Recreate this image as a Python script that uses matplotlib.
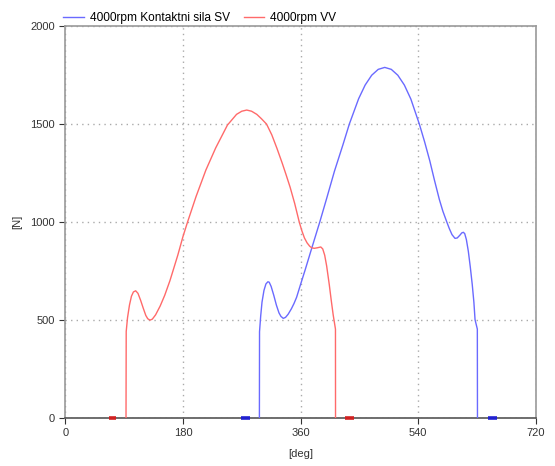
import matplotlib
matplotlib.use("Agg")
import matplotlib.pyplot as plt

plt.rcParams["font.family"] = ["Liberation Sans", "DejaVu Sans"]

# VV contact force (red)
vv_deg = [92.7, 93, 95, 98, 101, 104, 107.5, 111, 115, 119, 123, 126, 129.4, 133, 138,
          145, 152, 160, 165, 172, 180, 187, 200, 215, 230, 248, 262, 270, 277.6, 285,
          293, 300, 308, 316, 324, 332, 338, 344, 351, 358, 362, 366, 370, 374, 377,
          381, 386, 391, 394, 397, 400, 404, 407, 410, 413.5, 413.6]
vv_force = [0, 440, 510, 575, 620, 642, 648, 635, 600, 560, 522, 505, 498, 503, 525,
            570, 625, 700, 754, 830, 926, 1000, 1130, 1265, 1378, 1495, 1550, 1566, 1572, 1566,
            1550, 1528, 1500, 1445, 1375, 1300, 1240, 1178, 1095, 1000, 955, 918, 893, 876, 868,
            865, 868, 872, 862, 830, 775, 680, 600, 525, 452, 0]

# SV contact force (blue)
sv_deg = [297, 297.2, 299, 301, 304, 307, 310, 312, 315, 319, 323, 327, 330, 333.6, 337,
          341, 346, 350, 354, 360, 367, 377, 389.5, 400, 412, 425, 434.7, 449, 459, 469,
          479, 489, 499, 509, 519, 529, 542, 550, 558, 565, 572.6, 578, 584, 588, 592,
          596.6, 600, 604, 607, 609.4, 611.5, 614, 617, 620, 623, 625.5, 627.3, 630.8, 631]
sv_force = [0, 439, 520, 590, 650, 683, 694, 692, 670, 625, 575, 535, 517, 507, 512,
            528, 556, 583, 615, 680, 754, 864, 1000, 1120, 1260, 1395, 1500, 1630, 1700, 1750,
            1780, 1790, 1780, 1750, 1700, 1628, 1500, 1410, 1312, 1215, 1115, 1055, 1000, 965, 935,
            916, 918, 932, 944, 947, 940, 910, 850, 770, 680, 590, 500, 452, 0]

# short dark marks on the zero line
vv_marks = [(67, 78), (428, 442)]
sv_marks = [(269, 283), (647, 661)]

xticks = [0, 180, 360, 540, 720]
yticks = [0, 500, 1000, 1500, 2000]

fig = plt.figure(figsize=(5.55, 4.66), dpi=100)
ax = fig.add_axes([0.118, 0.104, 0.847, 0.8395])

ax.plot(sv_deg, sv_force, color="#6a6aff", lw=1, label="4000rpm Kontaktni sila SV", zorder=3)
ax.plot(vv_deg, vv_force, color="#ff6a6a", lw=1, label="4000rpm VV", zorder=3)

for a, b in vv_marks:
    ax.plot([a, b], [0, 0], color="#d02020", lw=2.6, solid_capstyle="butt", zorder=5, clip_on=False)
for a, b in sv_marks:
    ax.plot([a, b], [0, 0], color="#2020d0", lw=2.6, solid_capstyle="butt", zorder=5, clip_on=False)

ax.set_xlim(0, 720)
ax.set_ylim(0, 2000)
ax.set_xticks(xticks)
ax.set_yticks(yticks)
ax.tick_params(labelsize=8, colors="#333333", length=4, width=0.8)
ax.grid(True, color="#aaaaaa", linestyle=(0, (1, 3)), lw=1)

for side in ["left", "right", "top"]:
    ax.spines[side].set_color("#999999")
    ax.spines[side].set_linewidth(1.2)
ax.spines["bottom"].set_color("#555555")
ax.spines["bottom"].set_linewidth(1.2)

ax.set_xlabel("[deg]", fontsize=8, color="#333333", labelpad=8)
ax.set_ylabel("[N]", fontsize=8, color="#333333", labelpad=6)

fig.legend(loc="upper left", bbox_to_anchor=(0.095, 0.998), ncol=2, frameon=False,
           fontsize=8.6, handlelength=1.7, columnspacing=1.2, handletextpad=0.5)

fig.savefig("out.png", dpi=100)
